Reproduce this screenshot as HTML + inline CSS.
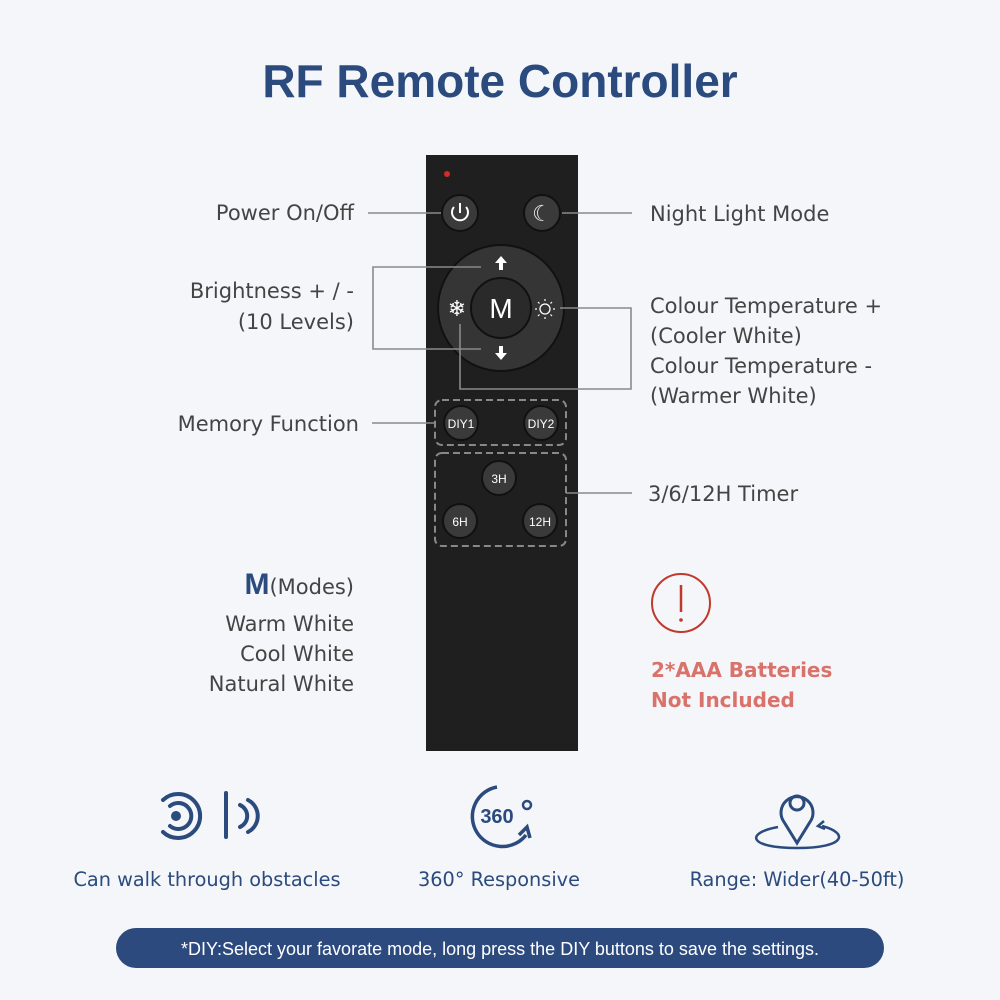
<!DOCTYPE html>
<html><head><style>
body{margin:0;width:1000px;height:1000px;background:#f4f6f9;overflow:hidden}
svg{display:block}
</style></head><body>
<svg width="1000" height="1000" viewBox="0 0 1000 1000" xmlns="http://www.w3.org/2000/svg" font-family="Liberation Sans, DejaVu Sans, sans-serif">
<rect width="1000" height="1000" fill="#f4f6f9"/>
<text x="500" y="97" text-anchor="middle" font-size="46" font-weight="bold" fill="#2b4a7e">RF Remote Controller</text>

<!-- remote -->
<rect x="426" y="155" width="152" height="596" fill="#1f1f1f"/>
<circle cx="447" cy="174" r="3" fill="#d42a2a"/>
<g fill="#3a3a3a" stroke="#111" stroke-width="2">
<circle cx="460" cy="213" r="18"/><circle cx="542" cy="213" r="18"/>
<circle cx="501" cy="308" r="63" fill="#353535"/>
<circle cx="501" cy="308" r="30" fill="#2a2a2a"/>
<circle cx="461" cy="423" r="17"/><circle cx="541" cy="423" r="17"/>
<circle cx="499" cy="478" r="17"/><circle cx="460" cy="521" r="17"/><circle cx="540" cy="521" r="17"/>
</g>
<path d="M454 207 A8 8 0 1 0 466 207" fill="none" stroke="#fff" stroke-width="2"/>
<line x1="460" y1="203" x2="460" y2="213" stroke="#fff" stroke-width="2"/>
<text x="542" y="221" text-anchor="middle" font-size="22" fill="#eee">☾</text>
<text x="501" y="318" text-anchor="middle" font-size="28" fill="#fff">M</text>
<path d="M501 256 l-6 7 h4 v7 h4 v-7 h4z M501 360 l-6 -7 h4 v-7 h4 v7 h4z" fill="#fff"/>
<text x="457" y="316" text-anchor="middle" font-size="22" fill="#fff">❄</text>
<circle cx="545" cy="309" r="5" fill="none" stroke="#fff" stroke-width="1.3"/>
<g stroke="#fff" stroke-width="1.2"><line x1="545" y1="299" x2="545" y2="301"/><line x1="545" y1="317" x2="545" y2="319"/><line x1="535" y1="309" x2="537" y2="309"/><line x1="553" y1="309" x2="555" y2="309"/><line x1="538" y1="302" x2="539.5" y2="303.5"/><line x1="550.5" y1="314.5" x2="552" y2="316"/><line x1="552" y1="302" x2="550.5" y2="303.5"/><line x1="538" y1="316" x2="539.5" y2="314.5"/></g>
<g font-size="12" fill="#fff" text-anchor="middle">
<text x="461" y="428">DIY1</text><text x="541" y="428">DIY2</text>
<text x="499" y="483">3H</text><text x="460" y="526">6H</text><text x="540" y="526">12H</text>
</g>
<g fill="none" stroke="#888" stroke-width="2" stroke-dasharray="7 4">
<rect x="435" y="400" width="131" height="45" rx="7"/>
<rect x="435" y="453" width="131" height="93" rx="7"/>
</g>

<!-- connectors -->
<g fill="none" stroke="#8a8a8a" stroke-width="1.6">
<line x1="368" y1="213" x2="441" y2="213"/>
<line x1="562" y1="213" x2="632" y2="213"/>
<polyline points="481,267 373,267 373,349 481,349"/>
<polyline points="560,308 631,308 631,389 460,389 460,324"/>
<line x1="372" y1="423" x2="435" y2="423"/>
<line x1="566" y1="493" x2="632" y2="493"/>
</g>

<g font-size="21" fill="#444" font-family="DejaVu Sans, sans-serif">
<text x="354" y="220" text-anchor="end">Power On/Off</text>
<text x="650" y="221">Night Light Mode</text>
<text x="354" y="298" text-anchor="end">Brightness + / -</text>
<text x="354" y="329" text-anchor="end">(10 Levels)</text>
<text x="650" y="313">Colour Temperature +</text>
<text x="650" y="343">(Cooler White)</text>
<text x="650" y="373">Colour Temperature -</text>
<text x="650" y="403">(Warmer White)</text>
<text x="359" y="431" text-anchor="end">Memory Function</text>
<text x="648" y="501">3/6/12H Timer</text>
<text x="354" y="594" text-anchor="end"><tspan font-size="30" font-weight="bold" fill="#2b4a7e" font-family="Liberation Sans, sans-serif">M</tspan>(Modes)</text>
<text x="354" y="631" text-anchor="end">Warm White</text>
<text x="354" y="661" text-anchor="end">Cool White</text>
<text x="354" y="691" text-anchor="end">Natural White</text>
</g>

<circle cx="681" cy="603" r="29" fill="none" stroke="#c0392b" stroke-width="2"/>
<line x1="681" y1="585" x2="681" y2="612" stroke="#c0392b" stroke-width="2.5"/>
<circle cx="681" cy="620" r="1.8" fill="#c0392b"/>
<g font-size="20" font-weight="bold" fill="#d9726a" font-family="DejaVu Sans, sans-serif">
<text x="651" y="677">2*AAA Batteries</text>
<text x="651" y="707">Not Included</text>
</g>

<!-- bottom icons -->
<g fill="none" stroke="#2b4a7e" stroke-width="4" stroke-linecap="round">
<path d="M163 800 A22 22 0 1 1 163 832"/>
<path d="M170 806 A13 13 0 1 1 170 826"/>
<line x1="226" y1="793" x2="226" y2="837"/>
<path d="M240 805 A12 12 0 0 1 240 827"/>
<path d="M248 800 A18 18 0 0 1 248 832"/>
</g>
<circle cx="176" cy="816" r="5" fill="#2b4a7e"/>
<path d="M497 787 A30 30 0 1 0 526 835" fill="none" stroke="#2b4a7e" stroke-width="3.5"/>
<path d="M519 835 l8 -8 l3 11" fill="none" stroke="#2b4a7e" stroke-width="3.5"/>
<text x="497" y="823" text-anchor="middle" font-size="20" font-weight="bold" fill="#2b4a7e">360</text>
<circle cx="527" cy="805" r="4" fill="none" stroke="#2b4a7e" stroke-width="2.5"/>
<path d="M797 843 L784 822 A16 16 0 1 1 810 822 Z" fill="none" stroke="#2b4a7e" stroke-width="3"/>
<circle cx="797" cy="803" r="7" fill="none" stroke="#2b4a7e" stroke-width="3"/>
<path d="M778 827 C745 833 748 848 797 848 C846 848 849 833 822 826" fill="none" stroke="#2b4a7e" stroke-width="2.5"/>
<path d="M824 821 l-6 5 l7 3" fill="none" stroke="#2b4a7e" stroke-width="2.5"/>
<g font-size="19.3" fill="#2b4a7e" text-anchor="middle" font-family="DejaVu Sans, sans-serif">
<text x="207" y="886">Can walk through obstacles</text>
<text x="499" y="886">360° Responsive</text>
<text x="797" y="886">Range: Wider(40-50ft)</text>
</g>

<rect x="116" y="928" width="768" height="40" rx="20" fill="#2c4a7e"/>
<text x="500" y="955" text-anchor="middle" font-size="18" fill="#fff">*DIY:Select your favorate mode, long press the DIY buttons to save the settings.</text>
</svg>
</body></html>
